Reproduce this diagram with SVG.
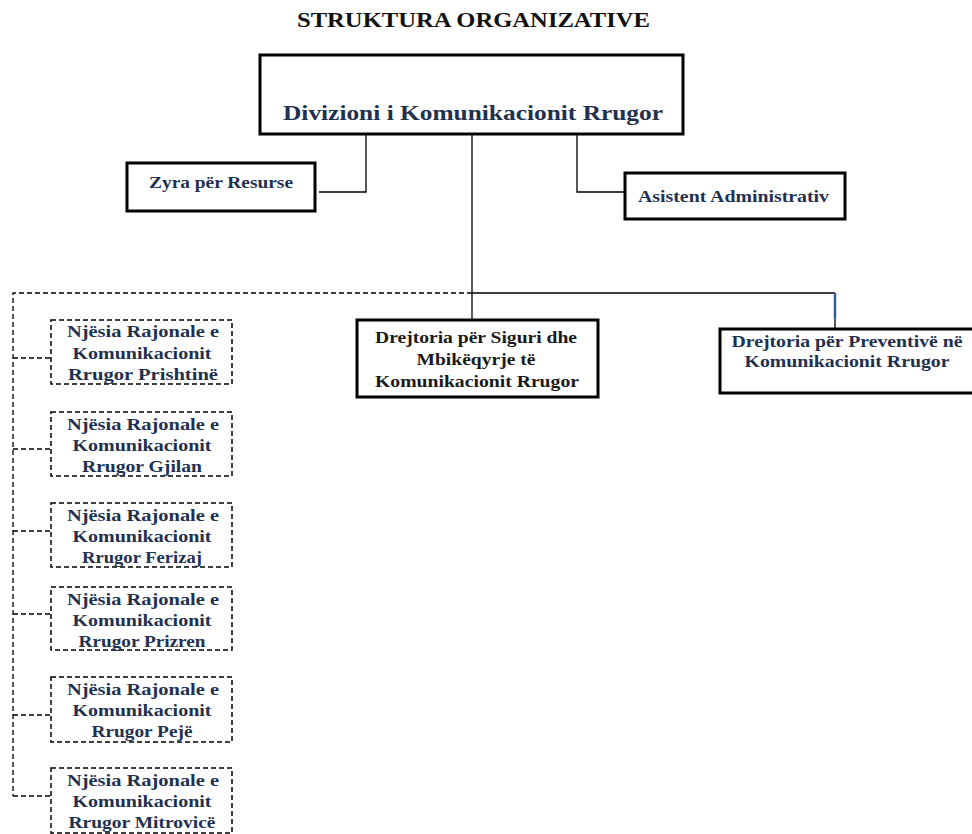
<svg xmlns="http://www.w3.org/2000/svg" width="972" height="834" viewBox="0 0 972 834">
<style>
text{font-family:"Liberation Serif","Times New Roman",serif;font-weight:bold;text-anchor:middle}
.t{fill:#1f3150;font-size:17px}
.k{fill:#1a1a1a;font-size:17px}
.big{font-size:22px}
.solid{fill:#fff;stroke:#000;stroke-width:3}
.dash{fill:#fff;stroke:#000;stroke-width:1.5;stroke-dasharray:5 3}
.ln{fill:none;stroke:#000;stroke-width:1.3}
.dl{fill:none;stroke:#000;stroke-width:1.3;stroke-dasharray:5 3}
</style>
<rect width="972" height="834" fill="#fff"/>
<text x="473.5" y="27" class="big" fill="#111" textLength="353" lengthAdjust="spacingAndGlyphs">STRUKTURA ORGANIZATIVE</text>
<g id="connectors">
<path class="ln" d="M366 134V192H319"/>
<path class="ln" d="M577 134V192H625"/>
<path class="ln" d="M472 134V320"/>
<path class="ln" d="M472 293H835"/>
<path d="M835 293V318" stroke="#2e5fa0" stroke-width="2.5" fill="none"/>
<path class="ln" d="M835 318V329"/>
<path class="dl" d="M472 293H13V796"/>
<path class="dl" d="M13 358H51M13 449H51M13 531H51M13 614H51M13 715H51M13 796H51"/>
</g>
<g id="main">
<rect class="solid" x="260" y="55" width="423" height="79"/>
<text x="473" y="120" class="t big" textLength="380" lengthAdjust="spacingAndGlyphs">Divizioni i Komunikacionit Rrugor</text>
</g>
<g id="zyra">
<rect class="solid" x="127" y="163" width="188" height="48"/>
<text x="221" y="188" class="t" textLength="144" lengthAdjust="spacingAndGlyphs">Zyra për Resurse</text>
</g>
<g id="asistent">
<rect class="solid" x="625" y="173" width="220" height="46"/>
<text x="733.5" y="202" class="t" textLength="191" lengthAdjust="spacingAndGlyphs">Asistent Administrativ</text>
</g>
<g id="siguri">
<rect class="solid" x="357" y="320" width="241" height="77"/>
<text x="476" y="343" class="k" textLength="202" lengthAdjust="spacingAndGlyphs">Drejtoria për Siguri dhe</text>
<text x="476" y="365" class="k" textLength="119" lengthAdjust="spacingAndGlyphs">Mbikëqyrje të</text>
<text x="477" y="387" class="k" textLength="204" lengthAdjust="spacingAndGlyphs">Komunikacionit Rrugor</text>
</g>
<g id="preventive">
<rect class="solid" x="720" y="329" width="260" height="64"/>
<text x="847" y="347" class="t" textLength="231" lengthAdjust="spacingAndGlyphs">Drejtoria për Preventivë në</text>
<text x="847" y="367" class="t" textLength="205" lengthAdjust="spacingAndGlyphs">Komunikacionit Rrugor</text>
</g>
<g id="prishtine">
<rect class="dash" x="51" y="320" width="181" height="64"/>
<text x="143" y="337" class="t" textLength="152" lengthAdjust="spacingAndGlyphs">Njësia Rajonale e</text>
<text x="142" y="359" class="t" textLength="139" lengthAdjust="spacingAndGlyphs">Komunikacionit</text>
<text x="143" y="380" class="t" textLength="150" lengthAdjust="spacingAndGlyphs">Rrugor Prishtinë</text>
</g>
<g id="gjilan">
<rect class="dash" x="51" y="412" width="181" height="64"/>
<text x="143" y="430" class="t" textLength="152" lengthAdjust="spacingAndGlyphs">Njësia Rajonale e</text>
<text x="142" y="451" class="t" textLength="139" lengthAdjust="spacingAndGlyphs">Komunikacionit</text>
<text x="142" y="472" class="t" textLength="120" lengthAdjust="spacingAndGlyphs">Rrugor Gjilan</text>
</g>
<g id="ferizaj">
<rect class="dash" x="51" y="503" width="181" height="64"/>
<text x="143" y="521" class="t" textLength="152" lengthAdjust="spacingAndGlyphs">Njësia Rajonale e</text>
<text x="142" y="542" class="t" textLength="139" lengthAdjust="spacingAndGlyphs">Komunikacionit</text>
<text x="142" y="563" class="t" textLength="120" lengthAdjust="spacingAndGlyphs">Rrugor Ferizaj</text>
</g>
<g id="prizren">
<rect class="dash" x="51" y="587" width="181" height="63"/>
<text x="143" y="605" class="t" textLength="152" lengthAdjust="spacingAndGlyphs">Njësia Rajonale e</text>
<text x="142" y="626" class="t" textLength="139" lengthAdjust="spacingAndGlyphs">Komunikacionit</text>
<text x="142" y="647" class="t" textLength="127" lengthAdjust="spacingAndGlyphs">Rrugor Prizren</text>
</g>
<g id="peje">
<rect class="dash" x="51" y="677" width="181" height="65"/>
<text x="143" y="695" class="t" textLength="152" lengthAdjust="spacingAndGlyphs">Njësia Rajonale e</text>
<text x="142" y="716" class="t" textLength="139" lengthAdjust="spacingAndGlyphs">Komunikacionit</text>
<text x="142" y="737" class="t" textLength="101" lengthAdjust="spacingAndGlyphs">Rrugor Pejë</text>
</g>
<g id="mitrovice">
<rect class="dash" x="51" y="768" width="181" height="65"/>
<text x="143" y="786" class="t" textLength="152" lengthAdjust="spacingAndGlyphs">Njësia Rajonale e</text>
<text x="142" y="807" class="t" textLength="139" lengthAdjust="spacingAndGlyphs">Komunikacionit</text>
<text x="142" y="828" class="t" textLength="147" lengthAdjust="spacingAndGlyphs">Rrugor Mitrovicë</text>
</g>
</svg>
